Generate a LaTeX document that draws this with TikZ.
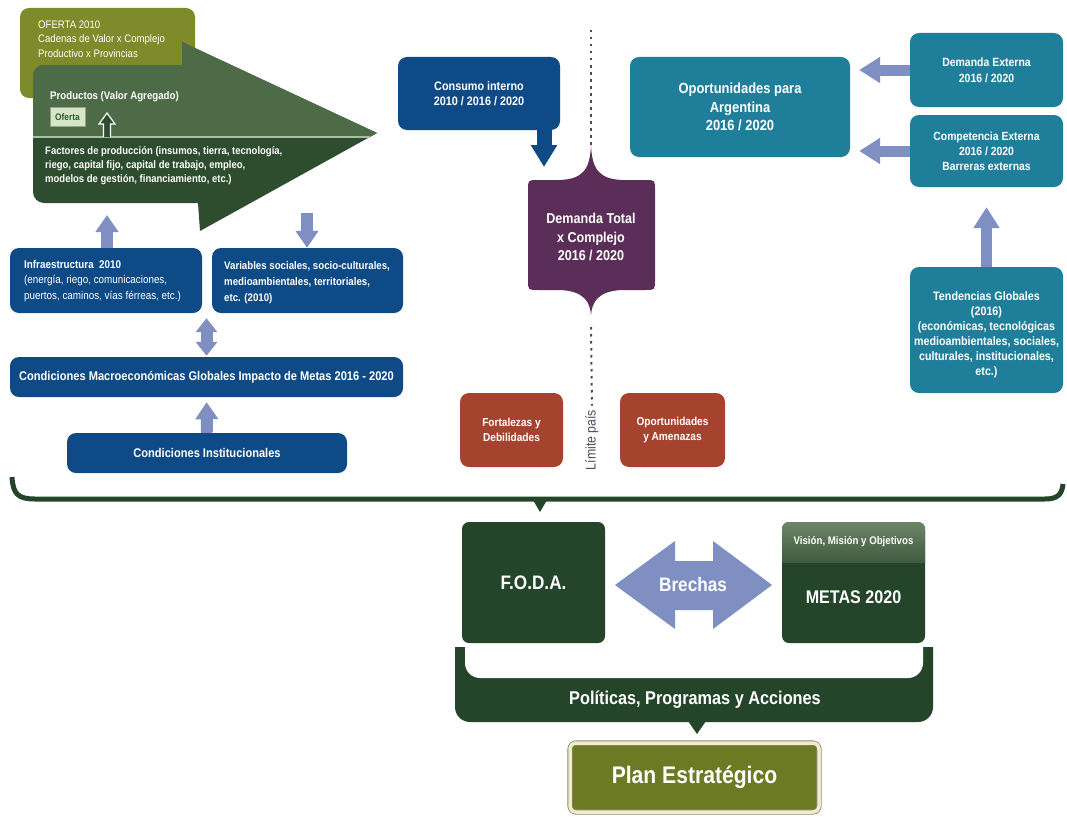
\documentclass[tikz,border=0pt]{standalone}
\usepackage{fontspec}
\setmainfont{Liberation Sans}[FakeStretch=0.88]
\usetikzlibrary{arrows.meta}
\newcommand\fsz[2]{\fontsize{#1}{#2}\selectfont}

\definecolor{cNavy}{HTML}{0E4B86}
\definecolor{cTeal}{HTML}{1F7F9B}
\definecolor{cPurple}{HTML}{5A2E58}
\definecolor{cRust}{HTML}{A6432E}
\definecolor{cDark}{HTML}{24452A}
\definecolor{cOlive}{HTML}{7D8B2B}
\definecolor{cPlan}{HTML}{6C7A24}
\definecolor{cCream}{HTML}{EFEBD0}
\definecolor{cPlanEdge}{HTML}{8C8C62}
\definecolor{cArrow}{HTML}{7F8FC1}
\definecolor{cBigUp}{HTML}{4E6B47}
\definecolor{cBigLow}{HTML}{2D4D2E}
\definecolor{cDivider}{HTML}{A9BFA2}
\definecolor{cTag}{HTML}{D6E6C6}
\definecolor{cTagText}{HTML}{2E5A2E}
\definecolor{cDot}{HTML}{54465E}
\definecolor{cStripTop}{HTML}{6E8468}
\definecolor{cStripBot}{HTML}{3F5B40}

\begin{document}
\begin{tikzpicture}[x=1pt,y=-1pt,
  box/.style={rounded corners=9pt, inner sep=0pt, align=center, text=white, font=\bfseries},
  navybox/.style={box, fill=cNavy},
  tealbox/.style={box, fill=cTeal},
  rustbox/.style={box, fill=cRust},
  greenbox/.style={box, fill=cDark, rounded corners=7pt},
  label/.style={inner sep=0pt, text=white, align=left},
  uparrow/.style={draw=cArrow, line width=12pt, -{Triangle[length=17pt,width=22pt]}},
  midarrow/.style={draw=cArrow, line width=11pt, -{Triangle[length=21pt,width=25pt]}},
  bothway/.style={draw=cArrow, line width=12pt, {Triangle[length=14pt,width=21pt]}-{Triangle[length=14pt,width=21pt]}},
  navyarrow/.style={draw=cNavy, line width=15pt, -{Triangle[length=22pt,width=25pt]}},
  dotline/.style={draw=cDot, line width=2pt, dash pattern=on 2.5pt off 4.5pt},
]
\useasboundingbox (0,0) rectangle (1067,816);
\fill[white] (0,0) rectangle (1067,816);

% ---------- supply side ----------
\node[box, fill=cOlive, minimum width=175pt, minimum height=90pt] (oferta) at (107.5,53) {};
\node[label, anchor=west, font=\fsz{10.9}{14.5}] (ofertatxt) at (38,39)
  {OFERTA 2010\\Cadenas de Valor x Complejo\\Productivo x Provincias};

% the large production arrow, light upper half and dark lower half
\newcommand\bigarrowpath{(182,65) [rounded corners=11pt] -- (33,65) -- (33,203) [sharp corners] -- (198,203) -- (200,231) -- (377,133) -- (182,42) -- cycle}
\fill[cBigLow] \bigarrowpath;
\begin{scope}
  \clip (0,0) rectangle (400,137);
  \fill[cBigUp] \bigarrowpath;
\end{scope}
\draw[cDivider, line width=1.2pt] (33,137) -- (370,137);
\draw[white, line width=1.2pt, fill=cBigLow] (103.5,137) -- (103.5,124) -- (99,124) -- (107,113) -- (115,124) -- (110.5,124) -- (110.5,137);

\node[label, anchor=west, font=\bfseries\fsz{11}{13}] (productos) at (50,97) {Productos (Valor Agregado)};
\node[fill=cTag, draw=cTag!70!black, line width=0.4pt, text=cTagText, font=\bfseries\fsz{9.5}{10},
      minimum width=35pt, minimum height=19pt, inner sep=0pt] (ofertatag) at (67.5,117) {Oferta};
\node[label, anchor=west, font=\bfseries\fsz{10.8}{14}] (factores) at (45,166)
  {Factores de producción (insumos, tierra, tecnología,\\riego, capital fijo, capital de trabajo, empleo,\\modelos de gestión, financiamiento, etc.)};

\coordinate (infraIn) at (107,215);
\coordinate (varsOut) at (307,213);

\node[navybox, minimum width=192pt, minimum height=65pt] (infra) at (106,280.5) {};
\node[label, anchor=west, font=\fsz{11.2}{15.5}] (infratxt) at (24,281)
  {\textbf{Infraestructura\ \ 2010}\\(energía, riego, comunicaciones,\\puertos, caminos, vías férreas, etc.)};
\node[navybox, minimum width=191pt, minimum height=65pt] (vars) at (307.5,280.5) {};
\node[label, anchor=west, font=\bfseries\fsz{11}{16}] (varstxt) at (224,283)
  {Variables sociales, socio-culturales,\\medioambientales, territoriales,\\etc. (2010)};

\node[navybox, minimum width=393pt, minimum height=40pt, font=\bfseries\fsz{12.6}{14}] (macro) at (206.5,377)
  {Condiciones Macroeconómicas Globales Impacto de Metas 2016 - 2020};
\node[navybox, minimum width=280pt, minimum height=40pt, font=\bfseries\fsz{12.6}{14}] (inst) at (207,453)
  {Condiciones Institucionales};

\draw[uparrow] (infra.north -| infraIn) -- (infraIn);
\draw[uparrow] (varsOut) -- (varsOut |- vars.north);
\draw[bothway, shorten <=1pt, shorten >=5pt] (macro.north) -- (macro.north |- infra.south);
\draw[uparrow, shorten >=5pt] (inst.north) -- (macro.south);

% ---------- demand side ----------
\node[navybox, minimum width=162pt, minimum height=73pt, font=\bfseries\fsz{12.3}{15}] (consumo) at (479,93.5)
  {Consumo interno\\2010 / 2016 / 2020};

\coordinate (demN) at (591,145);
\coordinate (demS) at (591,315);
\fill[cPurple] (demN) .. controls (592,168) and (598,179) .. (622,180) -- (645,180)
  .. controls (655,180) .. (655,190) -- (655,280) .. controls (655,290) .. (645,290)
  -- (622,290) .. controls (598,291) and (592,302) .. (demS)
  .. controls (590,302) and (584,291) .. (560,290) -- (538,290)
  .. controls (528,290) .. (528,280) -- (528,190) .. controls (528,180) .. (538,180)
  -- (560,180) .. controls (584,179) and (590,168) .. (demN) -- cycle;
\node[align=center, text=white, font=\bfseries\fsz{14.3}{18.5}, inner sep=0pt] (demanda) at (591,237)
  {Demanda Total\\x Complejo\\2016 / 2020};

\coordinate (consDrop) at (544,167);
\draw[navyarrow] (consumo.south -| consDrop) -- (consDrop);

\coordinate (limitTop) at (591,30);
\draw[dotline] (limitTop) -- (demN);
\node[rotate=90, text=cDot, font=\fsz{14}{16}, inner sep=0pt] (limite) at (592,440) {Límite país};
\coordinate (dotS) at (591,327);
\draw[dotline] (dotS) -- ([yshift=4pt]limite.east);

\node[tealbox, minimum width=220pt, minimum height=100pt, font=\bfseries\fsz{14.7}{18.5}] (oport) at (740,107)
  {Oportunidades para\\Argentina\\2016 / 2020};
\node[tealbox, minimum width=153pt, minimum height=74pt, font=\bfseries\fsz{11.9}{16}] (demext) at (986.5,70)
  {Demanda Externa\\2016 / 2020};
\node[tealbox, minimum width=153pt, minimum height=72pt, font=\bfseries\fsz{11.8}{15}] (compext) at (986.5,151)
  {Competencia Externa\\2016 / 2020\\Barreras externas};
\node[tealbox, minimum width=153pt, minimum height=126pt] (tend) at (986.5,330) {};
\node[align=center, text=white, font=\bfseries\fsz{12.2}{15}, inner sep=0pt] (tendtxt) at (986.5,334.5)
  {Tendencias Globales\\(2016)\\(económicas, tecnológicas\\medioambientales, sociales,\\culturales, institucionales,\\etc.)};

\draw[midarrow, shorten >=9pt] (demext.west) -- (oport.east |- demext.west);
\draw[midarrow, shorten >=9pt] (compext.west) -- (oport.east |- compext.west);
\draw[midarrow, shorten >=20pt] (tend.north) -- (compext.south);

\node[rustbox, minimum width=103pt, minimum height=74pt, font=\bfseries\fsz{11.5}{14.5}] (fort) at (511.5,430)
  {Fortalezas y\\Debilidades};
\node[rustbox, minimum width=105pt, minimum height=74pt, font=\bfseries\fsz{11.5}{14.5}] (opam) at (672.5,430)
  {Oportunidades\\y Amenazas};

% bracket gathering the whole diagnosis
\draw[cDark, line width=5pt] (12,477) .. controls (13,494) and (18,499) .. (35,499) -- (1045,499)
  .. controls (1058,499) and (1062,494) .. (1063,484);
\fill[cDark] (533,500) -- (547,500) -- (540,512) -- cycle;

% ---------- strategy ----------
\fill[cDark, rounded corners=15pt] (455,600) rectangle (933,722);
\fill[white, rounded corners=15pt] (465,560) rectangle (923,678);
\fill[white] (450,560) rectangle (940,647);
\fill[cDark] (688,721) -- (706,721) -- (697,734) -- cycle;
\node[text=white, font=\bfseries\fsz{18.5}{20}, inner sep=0pt] (politicas) at (695,700)
  {Políticas, Programas y Acciones};

\node[greenbox, minimum width=143pt, minimum height=121pt, font=\bfseries\fsz{19.5}{22}] (foda) at (533.5,582.5) {F.O.D.A.};
\node[greenbox, minimum width=143pt, minimum height=121pt] (metas) at (853.5,582.5) {};
\begin{scope}
  \clip[rounded corners=7pt] (782,522) rectangle (925,643);
  \shade[top color=cStripTop, bottom color=cStripBot] (782,522) rectangle (925,562);
\end{scope}
\node[text=white, font=\bfseries\fsz{11}{12}, inner sep=0pt] (vision) at (853.5,542) {Visión, Misión y Objetivos};
\node[text=white, font=\bfseries\fsz{18.3}{20}, inner sep=0pt] (metastxt) at (853.5,597) {METAS 2020};

\fill[cArrow] (615,585) -- (675,541) -- (675,561) -- (713,561) -- (713,541) -- (772,585)
  -- (713,629) -- (713,610) -- (675,610) -- (675,629) -- cycle;
\node[text=white, font=\bfseries\fsz{19.5}{21}, inner sep=0pt] (brechas) at (693,585) {Brechas};

\node[draw=cPlanEdge, line width=0.8pt, double=cCream, double distance=3.5pt, fill=cPlan,
      rounded corners=6pt, minimum width=249pt, minimum height=69pt, inner sep=0pt,
      text=white, font=\bfseries\fsz{24}{26}] (plan) at (694.5,777.5) {Plan Estratégico};
\end{tikzpicture}
\end{document}
